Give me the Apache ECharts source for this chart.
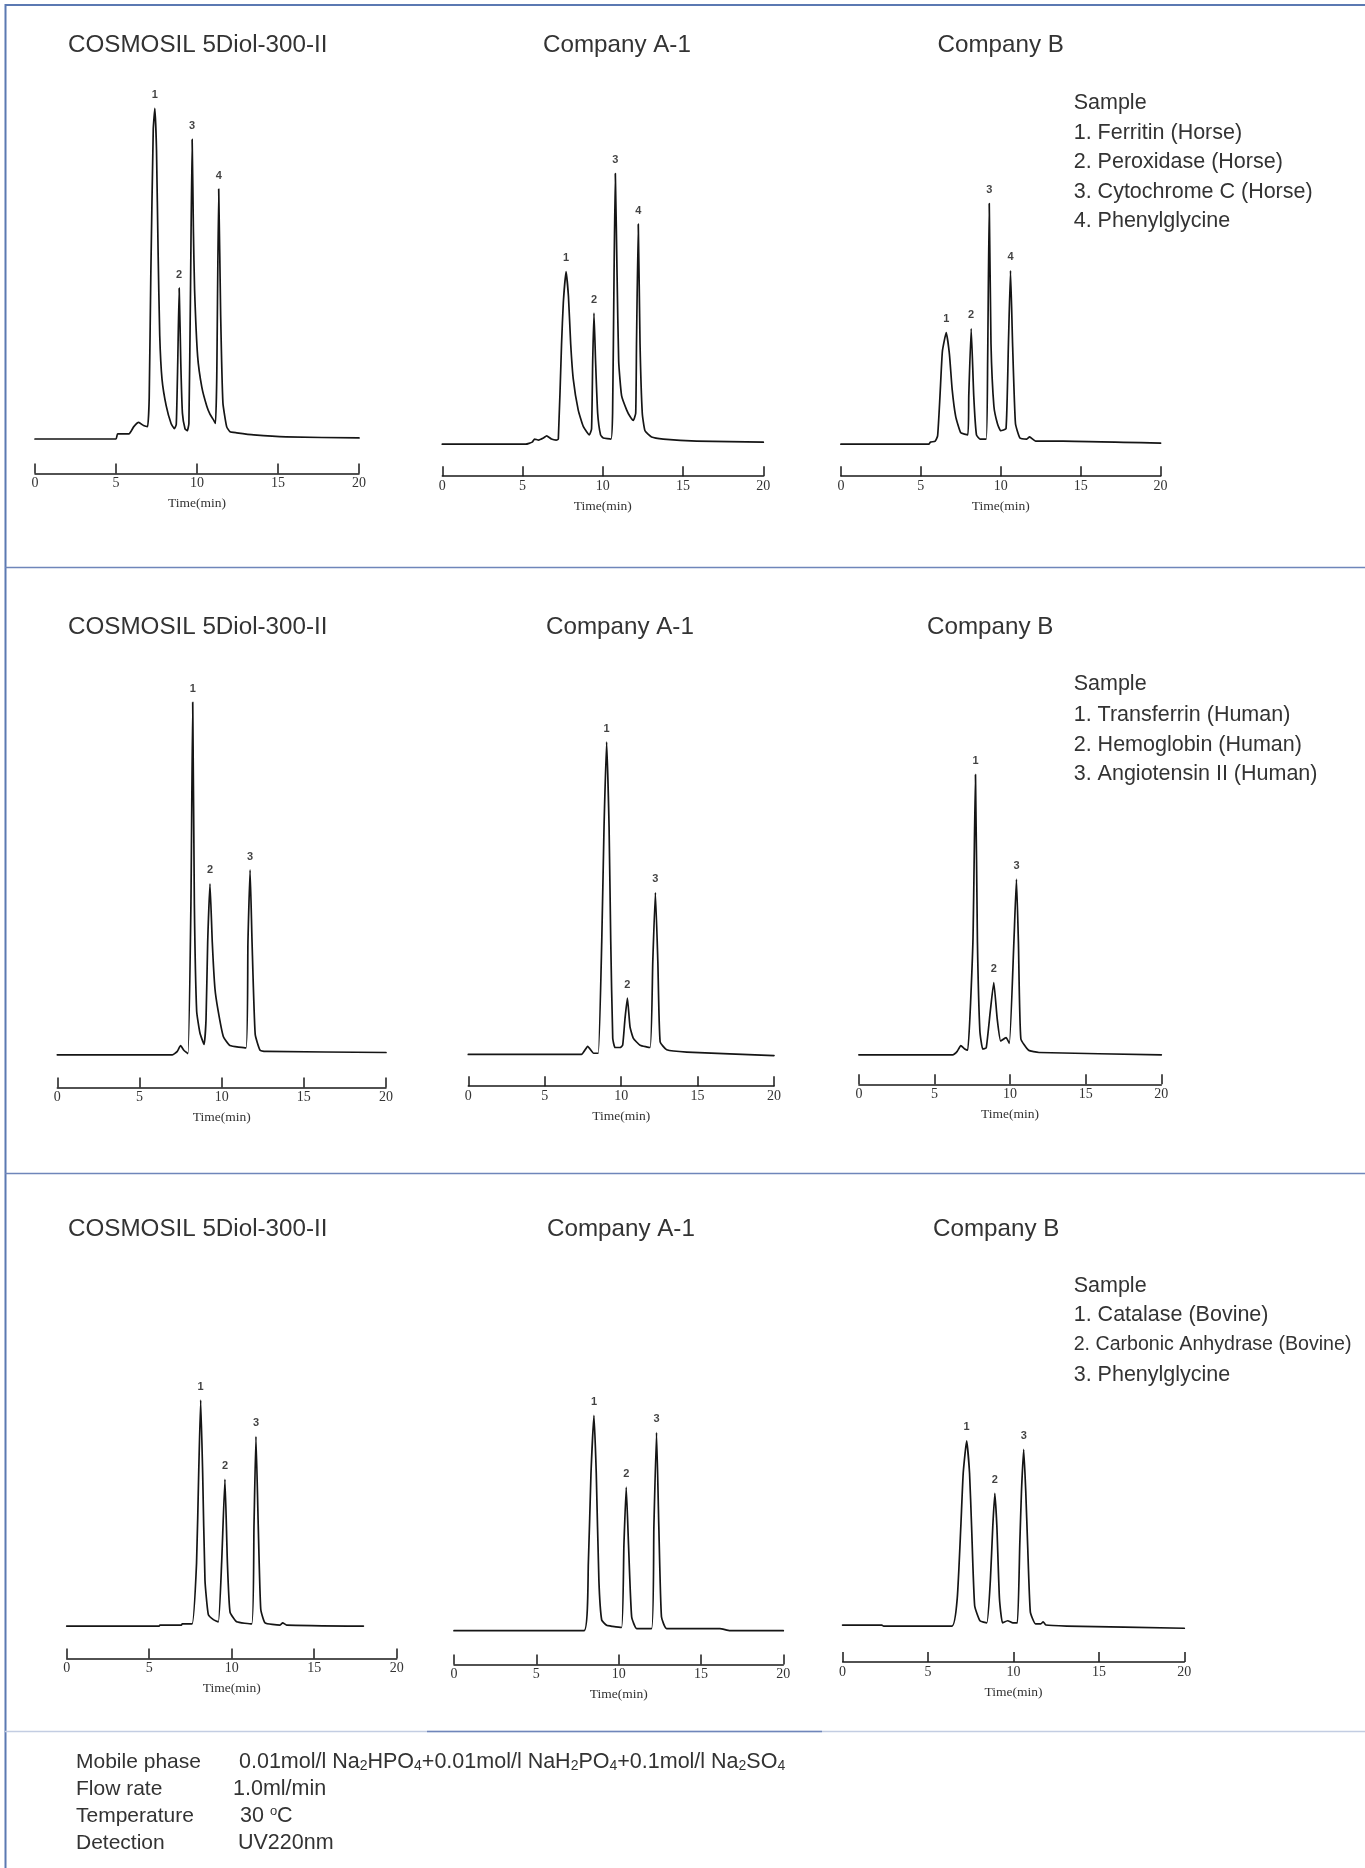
<!DOCTYPE html>
<html>
<head>
<meta charset="utf-8">
<script src="https://cdn.jsdelivr.net/npm/echarts@6/dist/echarts.min.js"></script>
<style>
html,body{margin:0;padding:0;background:#fff;}
#chart{width:1365px;height:1868px;}
</style>
</head>
<body>
<div id="chart"></div>
<script>
// ---------- DATA (time in min, signal in arbitrary units above baseline) ----------
const columnTitles = ['COSMOSIL 5Diol-300-II', 'Company A-1', 'Company B'];
const xTickInterval = 5;

// Row 1: Ferritin / Peroxidase / Cytochrome C / Phenylglycine
const r1Cosmosil = [[0,0],[5.0,0],[5.1,5],[5.8,5],[6.1,12],[6.4,16],[6.7,13],[6.95,12],[7.05,40],[7.15,160],[7.3,300],[7.4,320],[7.5,280],[7.6,180],[7.7,100],[7.84,58],[8.1,32],[8.4,15],[8.6,10],[8.72,14],[8.81,73],[8.9,146],[9.0,73],[9.1,25],[9.26,10],[9.4,8],[9.5,15],[9.6,145],[9.7,290],[9.78,200],[9.85,145],[10.04,80],[10.3,50],[10.6,32],[10.8,24],[11.0,19],[11.14,15],[11.22,60],[11.34,242],[11.46,120],[11.6,35],[11.83,12],[12.04,7],[12.45,6],[13.5,4],[15.5,2],[20,1]];
const r1CosmosilPeaks = [[7.4,320,'1'],[8.9,146,'2'],[9.7,290,'3'],[11.34,242,'4']];

const r1CompanyA = [[0,0],[5.2,0],[5.6,2],[5.75,5],[6.0,4],[6.3,6],[6.5,8],[6.8,5],[7.1,4],[7.23,5],[7.43,97],[7.54,137],[7.71,167],[7.86,143],[8.0,97],[8.16,63],[8.47,33],[8.79,17],[9.16,9],[9.3,15],[9.37,80],[9.45,127],[9.55,80],[9.68,30],[9.86,9],[10.03,6],[10.51,5],[10.61,30],[10.7,163],[10.78,262],[10.89,163],[10.99,80],[11.17,47],[11.49,33],[11.69,27],[11.9,23],[12.05,30],[12.1,97],[12.21,213],[12.32,97],[12.46,30],[12.63,13],[13.04,7],[13.77,5],[15.85,3],[20,2]];
const r1CompanyAPeaks = [[7.71,167,'1'],[9.45,127,'2'],[10.78,262,'3'],[12.21,213,'4']];

const r1CompanyB = [[0,0],[5.5,0],[5.6,2],[5.9,3],[6.05,8],[6.2,47],[6.35,90],[6.59,108],[6.79,87],[6.96,53],[7.18,27],[7.5,11],[7.94,9],[8.0,47],[8.15,112],[8.31,47],[8.48,9],[8.7,5],[9.09,5],[9.18,80],[9.28,233],[9.39,97],[9.57,37],[9.79,20],[10.0,13],[10.33,15],[10.48,97],[10.61,168],[10.74,97],[10.92,20],[11.2,6],[11.63,5],[11.8,7],[12.18,3],[13.9,3],[20,1]];
const r1CompanyBPeaks = [[6.59,108,'1'],[8.15,112,'2'],[9.28,233,'3'],[10.61,168,'4']];

// Row 2: Transferrin / Hemoglobin / Angiotensin II
const r2Cosmosil = [[0,0],[7.0,0],[7.3,3],[7.5,8],[7.7,4],[7.95,1],[8.13,131],[8.24,307],[8.34,131],[8.48,38],[8.68,19],[8.93,9],[9.05,31],[9.15,98],[9.29,149],[9.43,98],[9.59,58],[9.79,38],[10.1,16],[10.5,8],[11.48,6],[11.6,98],[11.73,161],[11.85,98],[12.04,18],[12.34,4],[12.74,3],[20,2]];
const r2CosmosilPeaks = [[8.24,307,'1'],[9.29,149,'2'],[11.73,161,'3']];

const r2CompanyA = [[0,0],[7.4,0],[7.81,7],[8.2,1],[8.5,1],[8.73,98],[8.88,198],[9.05,272],[9.21,198],[9.32,98],[9.45,14],[9.6,6],[9.93,6],[10.1,8],[10.25,31],[10.41,49],[10.58,24],[10.8,14],[11.24,8],[11.89,6],[12.07,81],[12.24,141],[12.4,81],[12.55,11],[12.98,4],[14.3,2],[20,-1]];
const r2CompanyAPeaks = [[9.05,272,'1'],[10.41,49,'2'],[12.24,141,'3']];

const r2CompanyB = [[0,0],[6.2,0],[6.5,3],[6.74,8],[7.0,5],[7.2,4],[7.54,98],[7.71,244],[7.84,98],[8.0,21],[8.19,5],[8.42,6],[8.69,38],[8.92,63],[9.15,31],[9.38,12],[9.73,15],[9.95,10],[10.25,98],[10.42,153],[10.55,98],[10.71,14],[11.22,4],[11.91,2],[20,0]];
const r2CompanyBPeaks = [[7.71,244,'1'],[8.92,63,'2'],[10.42,153,'3']];

// Row 3: Catalase / Carbonic Anhydrase / Phenylglycine
const r3Cosmosil = [[0,0],[5.6,0],[5.65,1],[6.95,1],[7.0,2],[7.6,2],[7.87,59],[8.0,143],[8.12,211],[8.24,143],[8.38,43],[8.58,11],[8.89,6],[9.19,4],[9.39,59],[9.59,137],[9.74,59],[9.9,13],[10.3,4],[11.21,2],[11.35,93],[11.47,177],[11.61,93],[11.76,16],[12.02,3],[12.93,1],[13.09,3],[13.33,1],[17.98,0]];
const r3CosmosilPeaks = [[8.12,211,'1'],[9.59,137,'2'],[11.47,177,'3']];

const r3CompanyA = [[0,0],[7.9,0],[8.16,63],[8.32,147],[8.5,201],[8.64,147],[8.8,47],[8.97,10],[9.27,5],[9.63,4],[10.18,3],[10.32,80],[10.46,134],[10.6,80],[10.79,13],[11.09,2],[12.0,2],[12.14,97],[12.3,185],[12.44,97],[12.6,13],[12.91,2],[16.15,2],[16.76,0],[20,0]];
const r3CompanyAPeaks = [[8.5,201,'1'],[10.46,134,'2'],[12.3,185,'3']];

const r3CompanyB = [[0,1],[2.3,1],[2.4,0],[6.4,0],[6.71,26],[6.92,93],[7.06,143],[7.26,173],[7.43,143],[7.55,93],[7.73,19],[8.04,5],[8.44,3],[8.65,43],[8.79,93],[8.91,124],[9.03,93],[9.18,26],[9.36,3],[9.66,5],[9.97,3],[10.23,3],[10.37,76],[10.47,126],[10.6,165],[10.72,126],[10.83,76],[10.99,13],[11.29,2],[11.6,2],[11.74,4],[11.9,1],[13.12,0],[20,-2]];
const r3CompanyBPeaks = [[7.26,173,'1'],[8.91,124,'2'],[10.6,165,'3']];

const sampleRow1 = ['Sample', '1. Ferritin (Horse)', '2. Peroxidase (Horse)', '3. Cytochrome C (Horse)', '4. Phenylglycine'];
const sampleRow2 = ['Sample', '1. Transferrin (Human)', '2. Hemoglobin (Human)', '3. Angiotensin II (Human)'];
const sampleRow3 = ['Sample', '1. Catalase (Bovine)', '2. Carbonic Anhydrase (Bovine)', '3. Phenylglycine'];

const conditionLabels = ['Mobile phase', 'Flow rate', 'Temperature', 'Detection'];
const conditionValues = [
  '0.01mol/l Na{s|2}HPO{s|4}+0.01mol/l NaH{s|2}PO{s|4}+0.1mol/l Na{s|2}SO{s|4}',
  '1.0ml/min',
  '30 {o|o}C',
  'UV220nm'
];

// ---------- LAYOUT ----------
const H = 430;
// k = pixels per signal unit
const panels = [
  {title:0, data:r1Cosmosil, peaks:r1CosmosilPeaks, x0:35,    x20:359,    axisY:473.5,  gap:34.5, k:1.033, tx:68,    ty:45},
  {title:1, data:r1CompanyA, peaks:r1CompanyAPeaks, x0:442.3, x20:763.3,  axisY:476.2,  gap:32,   k:1.033, tx:543,   ty:45},
  {title:2, data:r1CompanyB, peaks:r1CompanyBPeaks, x0:840.9, x20:1160.6, axisY:476.2,  gap:32,   k:1.033, tx:937.5, ty:45},
  {title:0, data:r2Cosmosil, peaks:r2CosmosilPeaks, x0:57.3,  x20:386,    axisY:1087.4, gap:32.6, k:1.148, tx:68,    ty:627},
  {title:1, data:r2CompanyA, peaks:r2CompanyAPeaks, x0:468.3, x20:774,    axisY:1086.2, gap:31.8, k:1.148, tx:546,   ty:627},
  {title:2, data:r2CompanyB, peaks:r2CompanyBPeaks, x0:858.9, x20:1161.3, axisY:1084.3, gap:29.5, k:1.148, tx:927,   ty:627},
  {title:0, data:r3Cosmosil, peaks:r3CosmosilPeaks, x0:66.7,  x20:396.7,  axisY:1658.6, gap:32.5, k:1.071, tx:68,    ty:1229},
  {title:1, data:r3CompanyA, peaks:r3CompanyAPeaks, x0:454,   x20:783.3,  axisY:1664.6, gap:33.9, k:1.071, tx:547,   ty:1229},
  {title:2, data:r3CompanyB, peaks:r3CompanyBPeaks, x0:842.6, x20:1184.3, axisY:1662.1, gap:36,   k:1.071, tx:933,   ty:1229}
];

const SANS = '"Liberation Sans", Arial, Helvetica, sans-serif';
const SERIF = '"Liberation Serif", "Times New Roman", serif';
const TXT = '#333333';

const grid = [], xAxis = [], yAxis = [], series = [], graphic = [];

panels.forEach((p, i) => {
  grid.push({left: p.x0, width: p.x20 - p.x0, top: p.axisY - H, height: H, outerBoundsMode: 'none', containLabel: false});
  xAxis.push({
    type: 'value', gridIndex: i, min: 0, max: 20, interval: xTickInterval,
    name: 'Time(min)', nameLocation: 'middle', nameGap: 23,
    nameTextStyle: {fontFamily: SERIF, fontSize: 13.5, color: TXT},
    axisLine: {show: true, onZero: false, lineStyle: {color: '#1a1a1a', width: 1.5}},
    axisTick: {show: true, inside: true, length: 10, lineStyle: {color: '#1a1a1a', width: 1.5}},
    axisLabel: {margin: 3, fontFamily: SERIF, fontSize: 14, color: TXT},
    splitLine: {show: false}
  });
  yAxis.push({type: 'value', gridIndex: i, min: -p.gap / p.k, max: (H - p.gap) / p.k, show: false, splitLine: {show: false}});
  series.push({
    type: 'line', xAxisIndex: i, yAxisIndex: i, data: p.data, symbol: 'none',
    smooth: 0.15,
    lineStyle: {color: '#151515', width: 1.7, join: 'round', cap: 'round'}, silent: true, animation: false
  });
  series.push({
    type: 'scatter', xAxisIndex: i, yAxisIndex: i, data: p.peaks, symbolSize: 0, silent: true, animation: false,
    label: {show: true, position: 'top', distance: 8, formatter: d => d.value[2],
      fontFamily: SANS, fontSize: 11, fontWeight: 'bold', color: '#111'}
  });
  graphic.push({type: 'text', x: p.tx, y: p.ty, silent: true,
    style: {text: columnTitles[p.title], fill: TXT, font: '24.2px ' + SANS,
      textVerticalAlign: 'middle', verticalAlign: 'middle'}});
});

function addSample(list, ys, sizes) {
  list.forEach((t, k) => {
    graphic.push({type: 'text', x: 1073.7, y: ys[k], silent: true,
      style: {text: t, fill: TXT, font: (sizes ? sizes[k] : 21.5) + 'px ' + SANS,
        textVerticalAlign: 'middle', verticalAlign: 'middle'}});
  });
}
addSample(sampleRow1, [103.3, 132.6, 161.8, 192.1, 221.4]);
addSample(sampleRow2, [684.4, 715, 744.8, 774.3]);
addSample(sampleRow3, [1286, 1314.6, 1345, 1374.6], [21.5, 21.5, 19.6, 21.5]);

// frame lines
const frameBlue = '#5b79b2';
graphic.push({type: 'line', silent: true, shape: {x1: 5.5, y1: 4, x2: 5.5, y2: 1868}, style: {stroke: frameBlue, lineWidth: 2}});
graphic.push({type: 'line', silent: true, shape: {x1: 5, y1: 5, x2: 1365, y2: 5}, style: {stroke: frameBlue, lineWidth: 2}});
graphic.push({type: 'line', silent: true, shape: {x1: 5, y1: 567.5, x2: 1365, y2: 567.5}, style: {stroke: '#6f86ba', lineWidth: 1.5}});
graphic.push({type: 'line', silent: true, shape: {x1: 5, y1: 1173.5, x2: 1365, y2: 1173.5}, style: {stroke: '#6f86ba', lineWidth: 1.5}});
graphic.push({type: 'line', silent: true, shape: {x1: 5, y1: 1731.5, x2: 1365, y2: 1731.5}, style: {stroke: '#c3cde2', lineWidth: 1.5}});
graphic.push({type: 'line', silent: true, shape: {x1: 427, y1: 1731.5, x2: 822, y2: 1731.5}, style: {stroke: '#6f86ba', lineWidth: 1.5}});

// conditions
const condY = [1762, 1789, 1816, 1843];
const condX = [239, 233, 240, 238];
conditionLabels.forEach((t, k) => {
  graphic.push({type: 'text', x: 76, y: condY[k], silent: true,
    style: {text: t, fill: TXT, font: '21px ' + SANS, textVerticalAlign: 'middle', verticalAlign: 'middle'}});
  graphic.push({type: 'text', x: condX[k], y: condY[k], silent: true,
    style: {text: conditionValues[k], fill: TXT, font: '21.5px ' + SANS, textVerticalAlign: 'middle', verticalAlign: 'middle',
      rich: {
        s: {fontSize: 14, fontFamily: SANS, fill: TXT, color: TXT, verticalAlign: 'bottom', lineHeight: 14},
        o: {fontSize: 13, fontFamily: SANS, fill: TXT, color: TXT, verticalAlign: 'top', lineHeight: 14}
      }}});
});

const chart = echarts.init(document.getElementById('chart'), null, {renderer: 'canvas'});
chart.setOption({
  animation: false,
  backgroundColor: '#ffffff',
  grid, xAxis, yAxis, series, graphic
});
</script>
</body>
</html>
